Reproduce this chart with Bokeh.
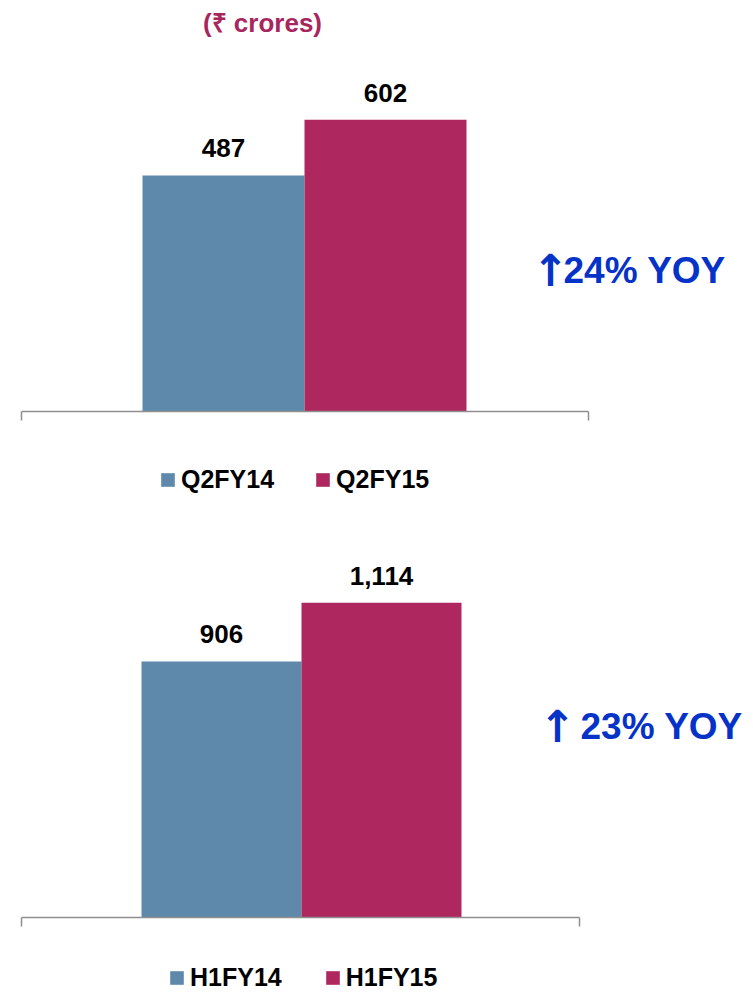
from bokeh.plotting import figure
from bokeh.models import ColumnDataSource, Range1d, FixedTicker, Label
from bokeh.layouts import column
from bokeh.core.properties import value
from bokeh.embed import file_html
from bokeh.resources import INLINE

# ---- data ----
unit_title = "(₹ crores)"
q_labels = ["Q2FY14", "Q2FY15"]
q_values = [487, 602]
q_growth = "24% YOY"
h_labels = ["H1FY14", "H1FY15"]
h_values = [906, 1114]
h_growth = "23% YOY"
arrow = "↑"

BLUE = "#5E89AB"
MAGENTA = "#AE275E"
TITLE_C = "#A8265E"
YOY_C = "#0533C8"
AXIS_C = "#8F8F8F"
FONT = "Liberation Sans"
FONT_V = value(FONT)
W = 750


def make_chart(labels, values, growth, frame_h, x_rng, y_rng, bounds,
               arrow_x, yoy_x, yoy_y, legend_xy, spacing, title=None):
    p = figure(frame_width=W, frame_height=frame_h, output_backend="svg",
               toolbar_location=None, x_range=Range1d(*x_rng),
               y_range=Range1d(*y_rng), y_axis_location=None,
               min_border=0, outline_line_color=None)
    p.xgrid.visible = False
    p.ygrid.visible = False
    src = ColumnDataSource(dict(
        x=list(range(len(values))), value=values, label=labels,
        color=[BLUE, MAGENTA], text=[f"{v:,}" for v in values]))
    p.vbar(x="x", top="value", bottom=0, width=1.0, color="color",
           line_color=None, legend_field="label", source=src)
    p.text(x="x", y="value", text="text", source=src, text_align="center",
           text_baseline="middle", y_offset=-27, text_font=FONT_V,
           text_font_style="bold", text_font_size="26px", text_color="#000000")
    ax = p.xaxis[0]
    ax.fixed_location = 0
    ax.bounds = bounds
    ax.ticker = FixedTicker(ticks=list(bounds))
    ax.major_label_overrides = {bounds[0]: "", bounds[1]: ""}
    ax.major_label_standoff = 0
    ax.major_tick_out = 9
    ax.major_tick_in = 0
    ax.minor_tick_line_color = None
    ax.axis_line_color = AXIS_C
    ax.axis_line_width = 1.5
    ax.major_tick_line_color = AXIS_C
    ax.major_tick_line_width = 1.5

    p.add_layout(Label(x=arrow_x, y=yoy_y, x_units="screen", y_units="screen",
                       text=arrow, text_font="DejaVu Sans", text_font_style="bold",
                       text_font_size="44px", text_color=YOY_C,
                       text_align="center", text_baseline="middle"))
    p.add_layout(Label(x=yoy_x, y=yoy_y, x_units="screen", y_units="screen",
                       text=growth, text_font=FONT, text_font_style="bold",
                       text_font_size="37px", text_color=YOY_C,
                       text_baseline="middle"))
    if title:
        p.add_layout(Label(x=262, y=frame_h - 22, x_units="screen", y_units="screen",
                           text=title, text_font=FONT, text_font_style="bold",
                           text_font_size="26px", text_color=TITLE_C,
                           text_align="center", text_baseline="middle"))
    lg = p.legend[0]
    lg.location = legend_xy
    lg.orientation = "horizontal"
    lg.glyph_width = 17
    lg.glyph_height = 17
    lg.label_standoff = 5
    lg.spacing = spacing
    lg.padding = 0
    lg.margin = 0
    lg.border_line_color = None
    lg.background_fill_alpha = 0
    lg.label_text_font = FONT
    lg.label_text_font_style = "bold"
    lg.label_text_font_size = "25px"
    lg.label_text_color = "#000000"
    lg.label_height = 17
    return p


top = make_chart(q_labels, q_values, q_growth, 498,
                 (-223 / 162, (W - 223) / 162), (-87 / 0.4846, 411 / 0.4846),
                 (-1.25, 2.25), 550, 563, 228, (159, 4), 40, title=unit_title)
bottom = make_chart(h_labels, h_values, h_growth, 495,
                    (-221 / 160, (W - 221) / 160), (-76 / 0.2826, 419 / 0.2826),
                    (-1.25, 2.24), 557, 580, 267, (168, 1), 42)

layout = column(top, bottom, spacing=0)
open("out.html", "w").write(file_html(layout, INLINE))
